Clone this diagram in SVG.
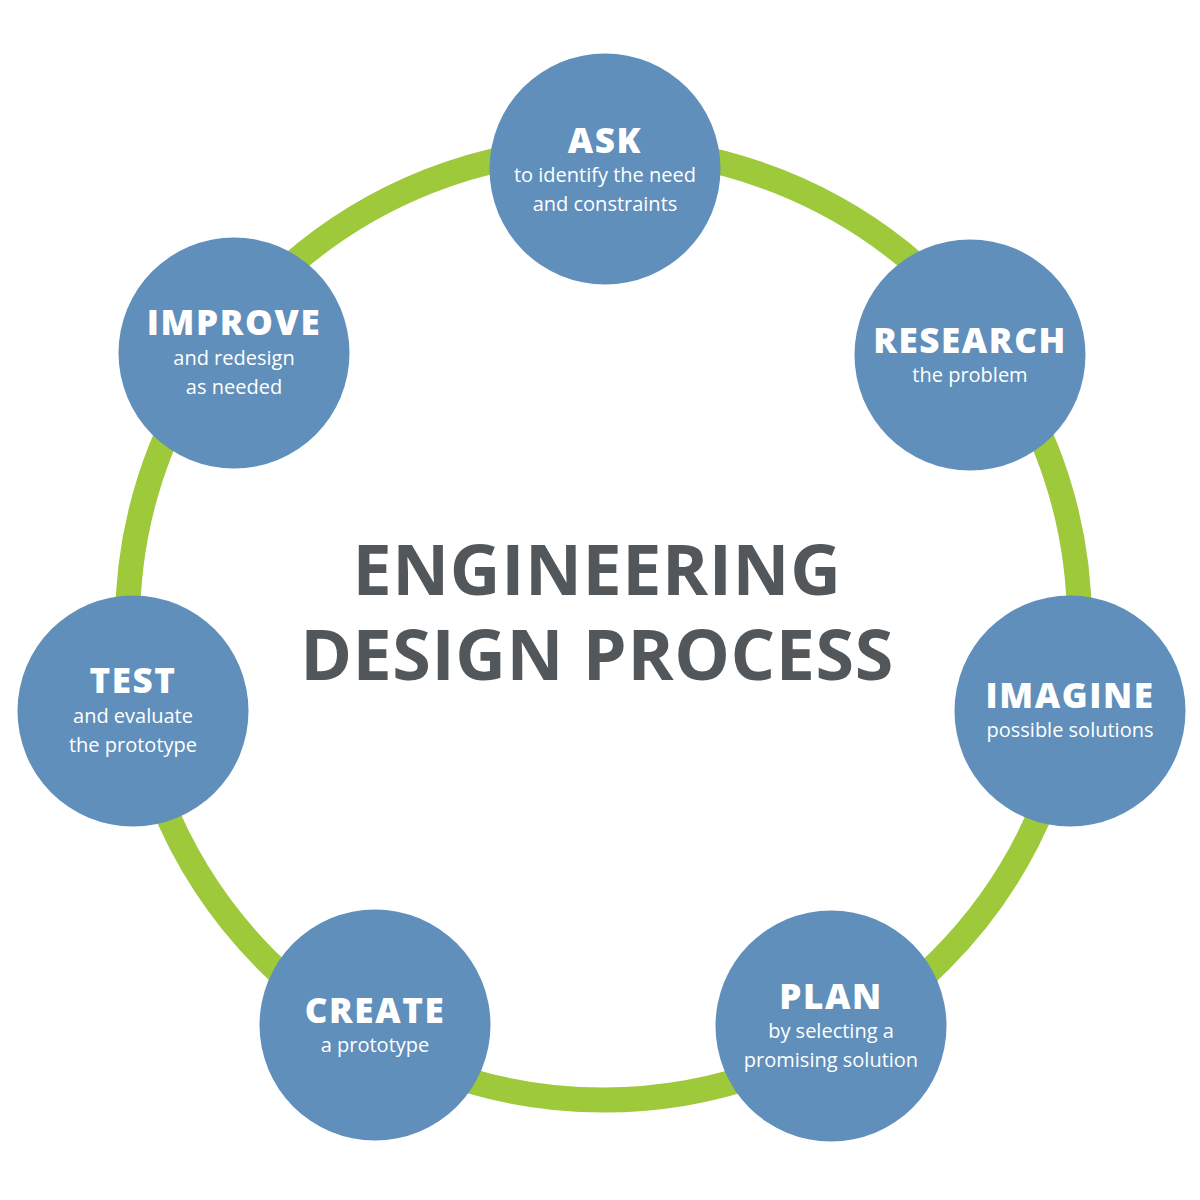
<svg xmlns="http://www.w3.org/2000/svg" width="1200" height="1200" viewBox="0 0 1200 1200">
<style>
.node{fill:#5f8fba}
.t{font-family:"Open Sans","Liberation Sans",sans-serif;font-weight:800;font-size:35px;fill:#fff;text-anchor:middle;letter-spacing:1.6px}
.s{font-family:"Open Sans","Liberation Sans",sans-serif;font-weight:400;font-size:20px;fill:#fff;text-anchor:middle}
.h{font-family:"Open Sans","Liberation Sans",sans-serif;font-weight:700;font-size:70px;fill:#51575b;text-anchor:middle;letter-spacing:0.6px}
</style>
<rect width="1200" height="1200" fill="#fff"/>
<g id="connectors">
<circle cx="603.5" cy="624" r="476" fill="none" stroke="#9dc93b" stroke-width="25"/>
</g>
<g id="title">
<text class="h" x="597" y="595">ENGINEERING</text>
<text class="h" x="597" y="680">DESIGN PROCESS</text>
</g>
<g id="ask">
<circle class="node" cx="605" cy="169" r="115.5"/>
<text class="t" x="605" y="153">ASK</text>
<text class="s" x="605" y="182">to identify the need</text>
<text class="s" x="605" y="211">and constraints</text>
</g>
<g id="research">
<circle class="node" cx="970" cy="355" r="115.5"/>
<text class="t" x="970" y="353">RESEARCH</text>
<text class="s" x="970" y="382">the problem</text>
</g>
<g id="imagine">
<circle class="node" cx="1070" cy="711" r="115.5"/>
<text class="t" x="1070" y="708">IMAGINE</text>
<text class="s" x="1070" y="737">possible solutions</text>
</g>
<g id="plan">
<circle class="node" cx="831" cy="1026" r="115.5"/>
<text class="t" x="831" y="1009">PLAN</text>
<text class="s" x="831" y="1038">by selecting a</text>
<text class="s" x="831" y="1067">promising solution</text>
</g>
<g id="create">
<circle class="node" cx="375" cy="1025" r="115.5"/>
<text class="t" x="375" y="1023">CREATE</text>
<text class="s" x="375" y="1052">a prototype</text>
</g>
<g id="test">
<circle class="node" cx="133" cy="711" r="115.5"/>
<text class="t" x="133" y="693">TEST</text>
<text class="s" x="133" y="723">and evaluate</text>
<text class="s" x="133" y="752">the prototype</text>
</g>
<g id="improve">
<circle class="node" cx="234" cy="353" r="115.5"/>
<text class="t" x="234" y="335">IMPROVE</text>
<text class="s" x="234" y="365">and redesign</text>
<text class="s" x="234" y="394">as needed</text>
</g>
</svg>
